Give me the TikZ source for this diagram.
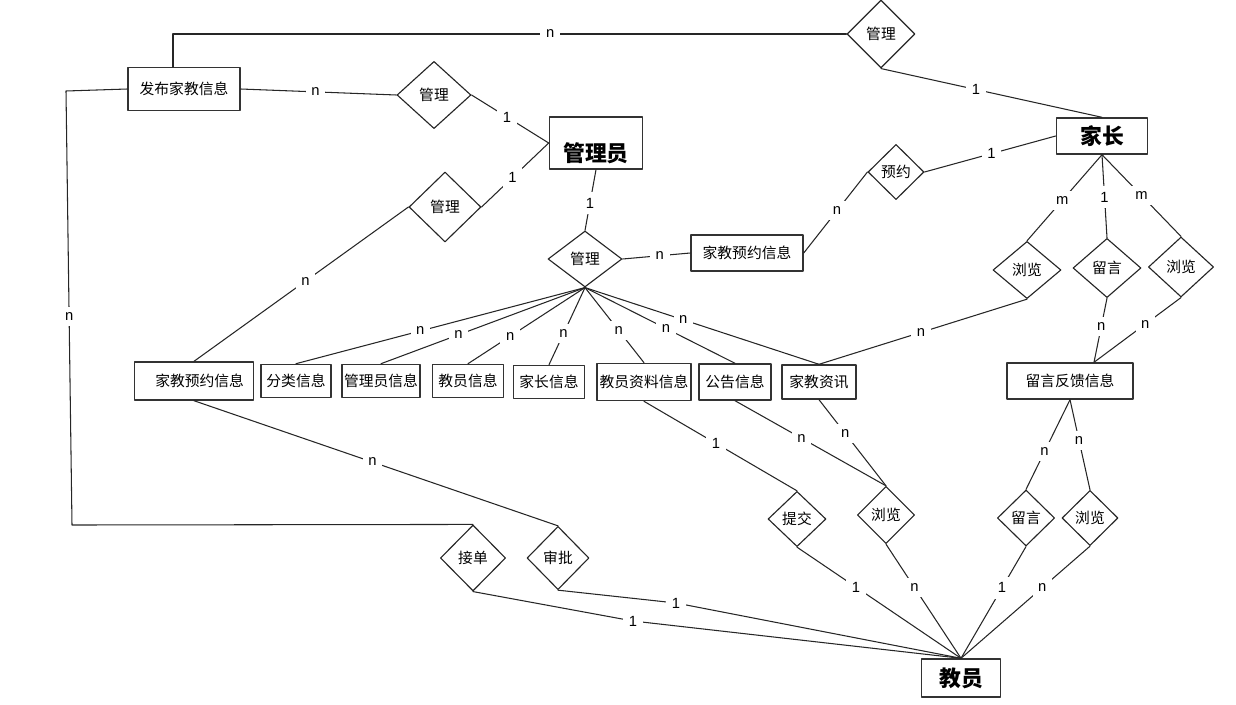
\documentclass[tikz,border=0pt]{standalone}
\usepackage{fontspec}
\setmainfont{Noto Sans CJK SC}
\newfontfamily\latinfont{Liberation Sans}
\usepackage{tikz}
\usetikzlibrary{shapes.geometric,calc}
\definecolor{edgeink}{HTML}{262626}
\definecolor{boxink}{HTML}{333333}

\begin{document}
\begin{tikzpicture}[
    x=0.025cm, y=-0.025cm,
    font=\fontsize{10.5pt}{12pt}\selectfont,
    line cap=round,
    line join=round,
    ent/.style={draw=boxink, line width=1pt, fill=white, inner sep=0pt, align=center},
    mainent/.style={ent, font=\fontsize{15.5pt}{18pt}\selectfont\bfseries},
    rel/.style={diamond, draw=edgeink, line width=0.8pt, fill=white, inner sep=0pt},
    link/.style={draw=edgeink, line width=0.75pt},
    card/.style={font=\latinfont\fontsize{10.5pt}{12pt}\selectfont, fill=white, inner sep=4pt, text=black}
]

\useasboundingbox (0,0) rectangle (1236,704);

% Entities
\node[ent, minimum width=2.8cm, minimum height=1.07cm] (pub) at (184,89) {发布家教信息};
\node[mainent, minimum width=2.33cm, minimum height=1.3cm, text height=1.0cm, text depth=0.1cm] (admin) at (596,143) {管理员};
\node[mainent, minimum width=2.28cm, minimum height=0.9cm] (parent) at (1102,136) {家长};
\node[ent, minimum width=2.8cm, minimum height=0.9cm] (bkR) at (747,253) {家教预约信息};
\node[ent, minimum width=2.98cm, minimum height=0.95cm, text width=2.5cm, align=right] (bkL) at (194,381) {家教预约信息};
\node[ent, minimum width=1.75cm, minimum height=0.83cm] (cat) at (296,381) {分类信息};
\node[ent, minimum width=1.95cm, minimum height=0.83cm] (adminf) at (381,381) {管理员信息};
\node[ent, minimum width=1.78cm, minimum height=0.83cm] (tinf) at (468,381) {教员信息};
\node[ent, minimum width=1.78cm, minimum height=0.83cm] (pinf) at (549,382) {家长信息};
\node[ent, minimum width=2.35cm, minimum height=0.93cm] (tdata) at (644,382) {教员资料信息};
\node[ent, minimum width=1.8cm, minimum height=0.9cm] (notice) at (735,382) {公告信息};
\node[ent, minimum width=1.85cm, minimum height=0.85cm] (news) at (819,382) {家教资讯};
\node[ent, minimum width=3.15cm, minimum height=0.9cm] (fb) at (1070,381) {留言反馈信息};
\node[mainent, minimum width=1.98cm, minimum height=0.95cm] (tutor) at (961,678) {教员};

% Relations
\node[rel, minimum width=1.85cm, minimum height=1.68cm] (mgA) at (434,95) {管理};
\node[rel, minimum width=1.7cm, minimum height=1.7cm] (mgB) at (881,34) {管理};
\node[rel, minimum width=1.4cm, minimum height=1.38cm] (book) at (896,172) {预约};
\node[rel, minimum width=1.8cm, minimum height=1.75cm] (mgC) at (445,207) {管理};
\node[rel, minimum width=1.85cm, minimum height=1.4cm] (mgD) at (585,259) {管理};
\node[rel, minimum width=1.7cm, minimum height=1.43cm] (brA) at (1027,270) {浏览};
\node[rel, minimum width=1.7cm, minimum height=1.48cm] (msgA) at (1107,268) {留言};
\node[rel, minimum width=1.63cm, minimum height=1.5cm] (brB) at (1181,267) {浏览};
\node[rel, minimum width=1.45cm, minimum height=1.38cm] (submit) at (797,519) {提交};
\node[rel, minimum width=1.43cm, minimum height=1.43cm] (brC) at (886,515) {浏览};
\node[rel, minimum width=1.43cm, minimum height=1.4cm] (msgB) at (1026,518) {留言};
\node[rel, minimum width=1.4cm, minimum height=1.38cm] (brD) at (1090,518) {浏览};
\node[rel, minimum width=1.63cm, minimum height=1.65cm] (take) at (473,558) {接单};
\node[rel, minimum width=1.55cm, minimum height=1.58cm] (check) at (558,558) {审批};

% Helper points
\coordinate (pubTop) at (173,34);
\coordinate (leftTop) at (66,91);
\coordinate (leftBot) at (72,525);
\coordinate (fbIn) at ($(fb.north)+(24,0)$);
\coordinate (checkBend) at (676,603);
\coordinate (takeBend) at (633,621);

% Top part
\draw[link] (pub.north -| pubTop) -- (pubTop) -- node[card, pos=0.56]{n} (mgB.west);
\draw[link] (mgB.south) -- node[card, pos=0.43]{1} (parent.north);
\draw[link] (pub.east) -- node[card, pos=0.48]{n} (mgA.west);
\draw[link] (mgA.east) -- node[card, pos=0.46]{1} (admin.west);
\draw[link] (mgC.east) -- node[card, pos=0.46]{1} (admin.west);
\draw[link] (mgC.west) -- node[card, pos=0.48]{n} (bkL.north);
\draw[link] (admin.south) -- node[card, pos=0.55]{1} (mgD.north);
\draw[link] (mgD.east) -- node[card, pos=0.55]{n} (bkR.west);
\draw[link] (bkR.east) -- node[card, pos=0.52]{n} (book.west);
\draw[link] (book.east) -- node[card, pos=0.51]{1} (parent.west);

% Admin fan
\draw[link] (mgD.south) -- node[card, pos=0.57]{n} (cat.north);
\draw[link] (mgD.south) -- node[card, pos=0.62]{n} (adminf.north);
\draw[link] (mgD.south) -- node[card, pos=0.64]{n} (tinf.north);
\draw[link] (mgD.south) -- node[card, pos=0.6]{n} (pinf.north);
\draw[link] (mgD.south) -- node[card, pos=0.57]{n} (tdata.north);
\draw[link] (mgD.south) -- node[card, pos=0.54]{n} (notice.north);
\draw[link] (mgD.south) -- node[card, pos=0.42]{n} (news.north);

% Parent side
\draw[link] (parent.south) -- node[card, pos=0.53]{m} (brA.north);
\draw[link] (parent.south) -- node[card, pos=0.51]{1} (msgA.north);
\draw[link] (parent.south) -- node[card, pos=0.5]{m} (brB.north);
\draw[link] (brA.south) -- node[card, pos=0.51]{n} (news.north);
\draw[link] (msgA.south) -- node[card, pos=0.44]{n} (fbIn);
\draw[link] (brB.south) -- node[card, pos=0.41]{n} (fbIn);
\draw[link] (fb.south) -- node[card, pos=0.58]{n} (msgB.north);
\draw[link] (fb.south) -- node[card, pos=0.45]{n} (brD.north);

% Tutor side
\draw[link] (msgB.south) -- node[card, pos=0.37]{1} (tutor.north);
\draw[link] (brD.south) -- node[card, pos=0.37]{n} (tutor.north);
\draw[link] (tdata.south) -- node[card, pos=0.47]{1} (submit.north);
\draw[link] (submit.south) -- node[card, pos=0.36]{1} (tutor.north);
\draw[link] (notice.south) -- node[card, pos=0.44]{n} (brC.north);
\draw[link] (news.south) -- node[card, pos=0.39]{n} (brC.north);
\draw[link] (brC.south) -- node[card, pos=0.38]{n} (tutor.north);
\draw[link] (bkL.south) -- node[card, pos=0.49]{n} (check.north);
\draw[link] (check.south) -- (checkBend) node[card]{1} -- (tutor.north);
\draw[link] (take.south) -- (takeBend) node[card]{1} -- (tutor.north);
\draw[link] (pub.west) -- (leftTop) -- node[card, pos=0.52]{n} (leftBot) -- (take.north);

\end{tikzpicture}
\end{document}
